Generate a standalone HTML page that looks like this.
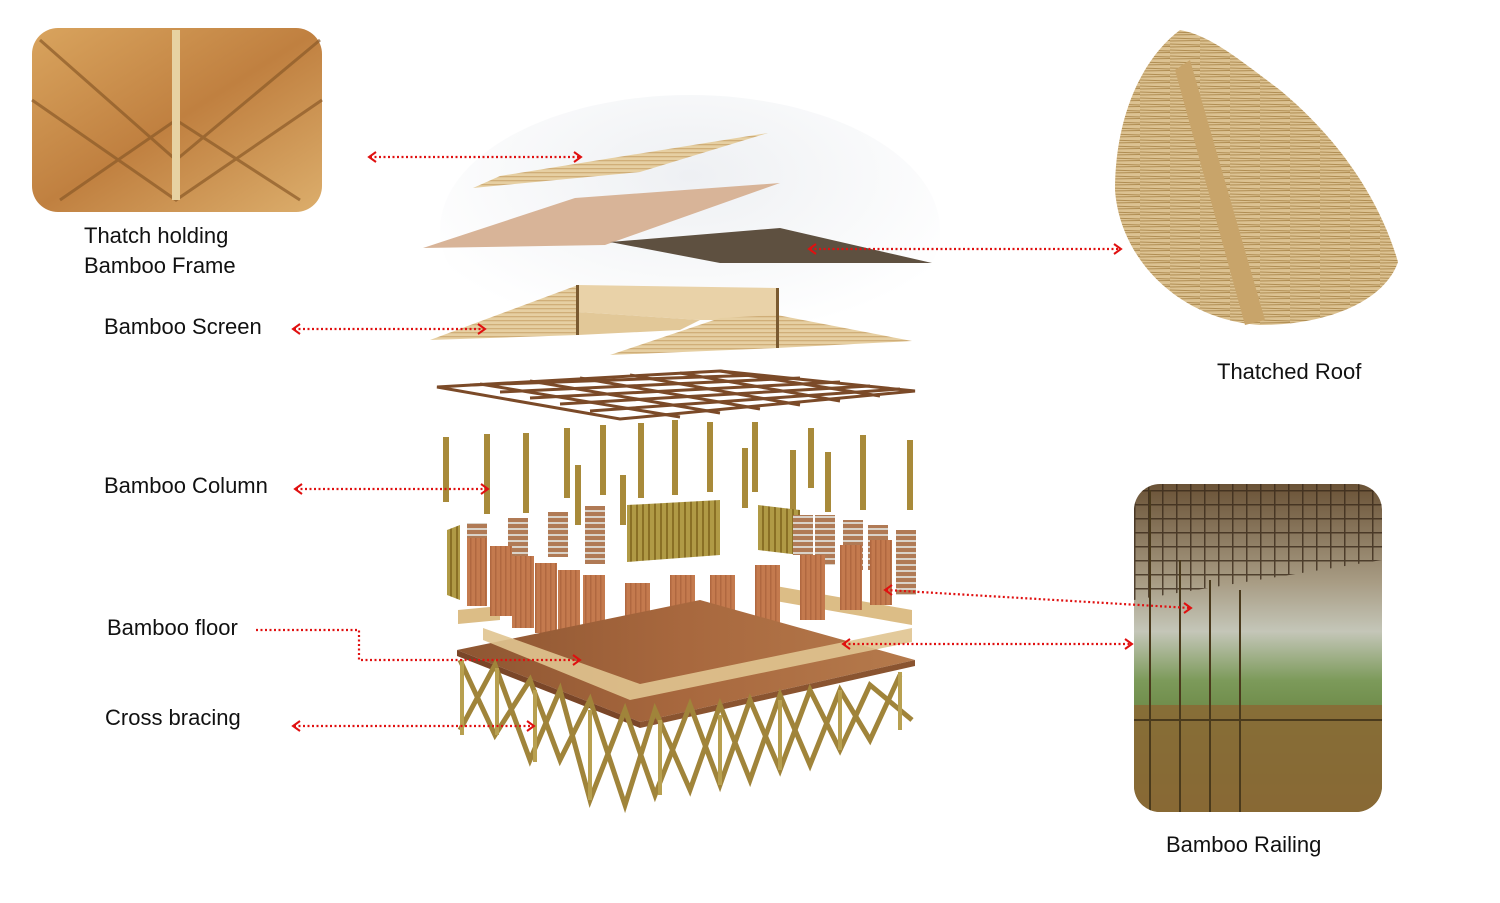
<!DOCTYPE html>
<html><head><meta charset="utf-8"><style>
html,body{margin:0;padding:0;background:#fff;}
body{width:1500px;height:903px;overflow:hidden;position:relative;font-family:"Liberation Sans",sans-serif;}
.t{position:absolute;font-size:22px;color:#111;line-height:30px;white-space:nowrap}
svg{position:absolute;left:0;top:0}
</style></head><body>
<svg width="1500" height="903" viewBox="0 0 1500 903">
<defs>
<radialGradient id="halo" cx="0.5" cy="0.3" r="0.6"><stop offset="0" stop-color="#eef0f3"/><stop offset="1" stop-color="#fff"/></radialGradient>
<linearGradient id="photo1" x1="0" y1="0" x2="1" y2="1"><stop offset="0" stop-color="#d9a45e"/><stop offset="0.5" stop-color="#c08040"/><stop offset="1" stop-color="#dcae6c"/></linearGradient>
<linearGradient id="photo2" x1="0" y1="0" x2="0" y2="1"><stop offset="0" stop-color="#6a5236"/><stop offset="0.3" stop-color="#a89c84"/><stop offset="0.45" stop-color="#c4c6b8"/><stop offset="0.6" stop-color="#7c9a5a"/><stop offset="0.7" stop-color="#6d8a48"/><stop offset="1" stop-color="#7a5a30"/></linearGradient>
<pattern id="stripe" width="4" height="4" patternUnits="userSpaceOnUse"><rect width="4" height="4" fill="#e6cfa2"/><rect width="4" height="1.3" fill="#d0ae78"/></pattern>
<pattern id="vstripe" width="5" height="5" patternUnits="userSpaceOnUse"><rect width="5" height="5" fill="#c47a4e"/><rect width="1.5" height="5" fill="#b06840"/></pattern>
<pattern id="bamboo" width="6" height="6" patternUnits="userSpaceOnUse"><rect width="6" height="6" fill="#b09a45"/><rect width="2" height="6" fill="#8a7025"/></pattern>
<pattern id="grille" width="6" height="6" patternUnits="userSpaceOnUse"><rect width="6" height="6" fill="#b07a55"/><rect width="6" height="2" fill="#d9d2c8"/></pattern>
<pattern id="thatch" width="30" height="6" patternUnits="userSpaceOnUse"><rect width="30" height="6" fill="#dcc292"/><path d="M0 2 L30 3 M0 5 L30 4.5" stroke="#b08d52" stroke-width="1"/></pattern>
<pattern id="grid2" width="14" height="14" patternUnits="userSpaceOnUse"><rect width="14" height="14" fill="none"/><path d="M0 0 H14 M0 0 V14" stroke="#3a2a1a" stroke-width="3"/></pattern>
<linearGradient id="floorg" x1="0" y1="0" x2="1" y2="0"><stop offset="0" stop-color="#8e5632"/><stop offset="0.5" stop-color="#a8683e"/><stop offset="1" stop-color="#b57a4c"/></linearGradient>
<clipPath id="rp"><rect x="1134" y="484" width="248" height="328" rx="26"/></clipPath>
</defs>

<rect x="32" y="28" width="290" height="184" rx="26" fill="url(#photo1)"/>
<g stroke="#8a5a28" stroke-width="3" opacity="0.7" fill="none">
<path d="M40 40 L176 160 M320 40 L176 160 M60 200 L176 120 L300 200 M32 100 L176 200 L322 100"/>
</g>
<rect x="172" y="30" width="8" height="170" fill="#e7d2a2"/>

<ellipse cx="690" cy="230" rx="250" ry="135" fill="url(#halo)"/>

<polygon points="473,188 500,176 768,133 640,172" fill="url(#stripe)"/>
<polygon points="423,248 575,198 780,183 605,245" fill="#d8b498"/>
<polygon points="610,242 780,228 932,263 720,263" fill="#5e5040"/>

<polygon points="430,340 578,285 578,335" fill="url(#stripe)"/>
<polygon points="578,285 777,288 777,320 700,320 578,312" fill="#e9d2a8"/>
<polygon points="610,355 720,318 777,315 912,341 777,348" fill="url(#stripe)"/>
<polygon points="578,312 700,320 680,330 578,335" fill="#e2c898"/>
<rect x="576" y="285" width="3" height="50" fill="#7a5a30"/>
<rect x="776" y="288" width="3" height="60" fill="#7a5a30"/>

<g stroke="#7b4a28" stroke-width="3" fill="none">
<path d="M437 387 L720 371 L915 391 L620 419 Z"/>
<path d="M470 385 L760 375 M500 392 L800 378 M530 398 L840 382 M560 404 L870 386 M590 411 L900 389"/>
<path d="M480 384 L680 417 M530 381 L720 413 M580 378 L760 409 M630 375 L800 405 M680 373 L840 401 M720 371 L880 396"/>
</g>

<g fill="#a88a3a">
<rect x="443" y="437" width="6" height="65"/><rect x="484" y="434" width="6" height="80"/><rect x="523" y="433" width="6" height="80"/>
<rect x="564" y="428" width="6" height="70"/><rect x="600" y="425" width="6" height="70"/><rect x="638" y="423" width="6" height="75"/>
<rect x="672" y="420" width="6" height="75"/><rect x="707" y="422" width="6" height="70"/><rect x="752" y="422" width="6" height="70"/>
<rect x="790" y="450" width="6" height="60"/><rect x="808" y="428" width="6" height="60"/><rect x="825" y="452" width="6" height="60"/>
<rect x="860" y="435" width="6" height="75"/><rect x="907" y="440" width="6" height="70"/><rect x="742" y="448" width="6" height="60"/>
<rect x="575" y="465" width="6" height="60"/><rect x="620" y="475" width="6" height="50"/>
</g>

<polygon points="627,505 720,500 720,555 627,562" fill="url(#bamboo)"/>
<polygon points="758,505 800,510 800,555 758,550" fill="url(#bamboo)"/>
<polygon points="447,530 460,525 460,600 447,595" fill="url(#bamboo)"/>
<g fill="url(#grille)">
<rect x="467" y="523" width="20" height="30"/><rect x="508" y="518" width="20" height="40"/><rect x="548" y="512" width="20" height="45"/>
<rect x="585" y="506" width="20" height="58"/><rect x="793" y="515" width="20" height="40"/><rect x="815" y="515" width="20" height="50"/>
<rect x="843" y="520" width="20" height="50"/><rect x="868" y="525" width="20" height="45"/><rect x="896" y="530" width="20" height="65"/>
</g>
<polygon points="458,610 500,606 500,620 458,624" fill="#dcbd86"/>
<polygon points="770,585 912,610 912,625 770,600" fill="#dcbd86"/>
<g fill="url(#vstripe)">
<rect x="467" y="538" width="20" height="68"/><rect x="490" y="546" width="22" height="70"/><rect x="512" y="556" width="22" height="72"/>
<rect x="535" y="563" width="22" height="70"/><rect x="558" y="570" width="22" height="72"/><rect x="583" y="575" width="22" height="72"/>
<rect x="625" y="583" width="25" height="75"/><rect x="670" y="575" width="25" height="75"/><rect x="710" y="575" width="25" height="70"/>
<rect x="755" y="565" width="25" height="70"/><rect x="800" y="555" width="25" height="65"/><rect x="840" y="545" width="22" height="65"/>
<rect x="870" y="540" width="22" height="65"/>
</g>

<polygon points="457,650 700,600 915,660 640,722" fill="url(#floorg)"/>
<polygon points="457,650 640,722 640,728 457,656" fill="#7a4628"/>
<polygon points="640,722 915,660 915,666 640,728" fill="#8a5430"/>
<polygon points="483,628 640,684 912,628 912,642 630,700 483,640" fill="#e0c490" opacity="0.9"/>

<g stroke="#a0843a" stroke-width="5" fill="none">
<path d="M460 660 L495 735 L530 680 L560 760 L590 700 L625 805 L655 710 L690 790 L720 705 L750 780 L780 695 L810 765 L840 690 L870 740 L900 675"/>
<path d="M460 730 L495 665 L530 760 L560 690 L590 800 L625 710 L655 795 L690 705 L720 785 L750 700 L780 770 L810 690 L840 750 L870 685 L912 720"/>
</g>
<g stroke="#b8a050" stroke-width="4">
<path d="M462 660 V735 M497 668 V735 M535 690 V762 M590 710 V800 M660 720 V795 M720 715 V785 M780 700 V770 M840 690 V750 M900 672 V730"/>
</g>

<path d="M1180 30 C1140 60 1115 120 1115 190 C1120 260 1180 320 1260 325 C1330 325 1385 300 1398 262 C1380 200 1340 140 1280 90 C1240 60 1210 35 1180 30 Z" fill="url(#thatch)"/>
<polygon points="1175,70 1190,60 1265,320 1245,325" fill="#c8a46a"/>

<g clip-path="url(#rp)">
<rect x="1134" y="484" width="248" height="328" fill="url(#photo2)"/>
<path d="M1134 484 H1382 V560 L1134 600 Z" fill="url(#grid2)" opacity="0.8"/>
<rect x="1134" y="705" width="248" height="107" fill="#8a6a35" opacity="0.9"/>
<g stroke="#4a3a1c" stroke-width="2"><path d="M1134 720 H1382 M1150 490 L1150 812 M1180 560 L1180 812 M1210 580 L1210 812 M1240 590 L1240 812"/></g>
</g>

<g stroke="#e01010" stroke-width="2.2" stroke-dasharray="2,2.5" fill="none">
<path d="M370 157 L580 157"/><path d="M810 249 L1120 249"/><path d="M294 329 L484 329"/>
<path d="M296 489 L487 489"/><path d="M256 630 L359 630 L359 660 L579 660"/><path d="M294 726 L533 726"/>
<path d="M886 590 L1190 608"/><path d="M844 644 L1131 644"/>
</g>
<g stroke="#e01010" stroke-width="2" fill="none">
<path d="M376 152 L369 157 L376 162"/><path d="M574 152 L581 157 L574 162"/>
<path d="M816 244 L809 249 L816 254"/><path d="M1114 244 L1121 249 L1114 254"/>
<path d="M300 324 L293 329 L300 334"/><path d="M478 324 L485 329 L478 334"/>
<path d="M302 484 L295 489 L302 494"/><path d="M481 484 L488 489 L481 494"/>
<path d="M573 655 L580 660 L573 665"/>
<path d="M300 721 L293 726 L300 731"/><path d="M527 721 L534 726 L527 731"/>
<path d="M892 585 L885 590 L892 595"/><path d="M1184 603 L1191 608 L1184 613"/>
<path d="M850 639 L843 644 L850 649"/><path d="M1125 639 L1132 644 L1125 649"/>
</g>
</svg>
<div class="t" style="left:84px;top:221px">Thatch holding<br>Bamboo Frame</div>
<div class="t" style="left:104px;top:312px">Bamboo Screen</div>
<div class="t" style="left:104px;top:471px">Bamboo Column</div>
<div class="t" style="left:107px;top:613px">Bamboo floor</div>
<div class="t" style="left:105px;top:703px">Cross bracing</div>
<div class="t" style="left:1217px;top:357px">Thatched Roof</div>
<div class="t" style="left:1166px;top:830px">Bamboo Railing</div>
</body></html>
